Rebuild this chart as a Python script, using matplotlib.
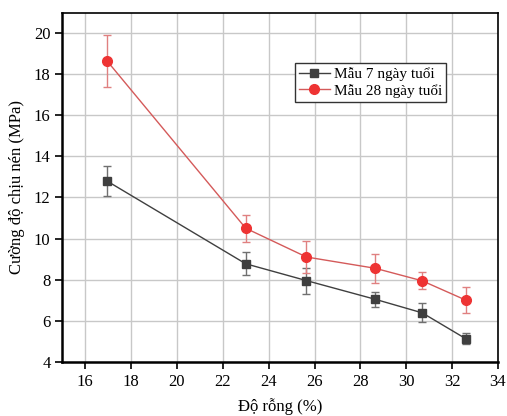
import matplotlib.pyplot as plt

plt.rcParams['font.family'] = ['Liberation Serif', 'DejaVu Serif']

porosity = [16.95, 23.0, 25.65, 28.65, 30.7, 32.6]
strength_7 = [12.8, 8.77, 7.95, 7.04, 6.38, 5.12]
err_7 = [0.75, 0.56, 0.63, 0.37, 0.47, 0.28]
strength_28 = [18.65, 10.5, 9.1, 8.55, 7.94, 7.0]
err_28 = [1.28, 0.66, 0.8, 0.7, 0.42, 0.62]

fig = plt.figure(figsize=(5.07, 4.16), dpi=100)
ax = fig.add_axes([0.123, 0.1305, 0.859, 0.839])

ax.errorbar(porosity, strength_7, yerr=err_7, fmt='none', ecolor='#707070',
            elinewidth=1, capsize=3, capthick=1, zorder=2)
ax.errorbar(porosity, strength_28, yerr=err_28, fmt='none', ecolor='#e08080',
            elinewidth=1, capsize=3, capthick=1, zorder=2)
ax.plot(porosity, strength_7, color='#3f3f3f', marker='s', markersize=6,
        linewidth=1, label='Mẫu 7 ngày tuổi', zorder=3)
ax.plot(porosity, strength_28, color='#d45a5a', marker='o', markersize=7,
        markerfacecolor='#ee3333', markeredgecolor='#ee3333', linewidth=1,
        label='Mẫu 28 ngày tuổi', zorder=3)

ax.set_xlim(15, 34)
ax.set_ylim(4, 21)
ax.set_xticks(range(16, 35, 2))
ax.set_yticks(range(4, 21, 2))
ax.grid(color='#c8c8c8', linewidth=1)
ax.set_axisbelow(True)
ax.tick_params(direction='out', length=5, width=1.2, labelsize=12,
               top=False, right=False)
for side in ['left', 'bottom']:
    ax.spines[side].set_linewidth(1.8)
for side in ['top', 'right']:
    ax.spines[side].set_linewidth(1.2)

ax.set_xlabel('Độ rỗng (%)', fontsize=12, labelpad=6)
ax.set_ylabel('Cường độ chịu nén (MPa)', fontsize=12, labelpad=6)

ax.legend(loc='upper left', bbox_to_anchor=(0.535, 0.855), fontsize=11,
          frameon=True, fancybox=False, edgecolor='#333333', framealpha=1,
          borderpad=0.25, handlelength=2.0, handletextpad=0.3,
          labelspacing=0.2, borderaxespad=0)

fig.savefig('out.png', dpi=100)
